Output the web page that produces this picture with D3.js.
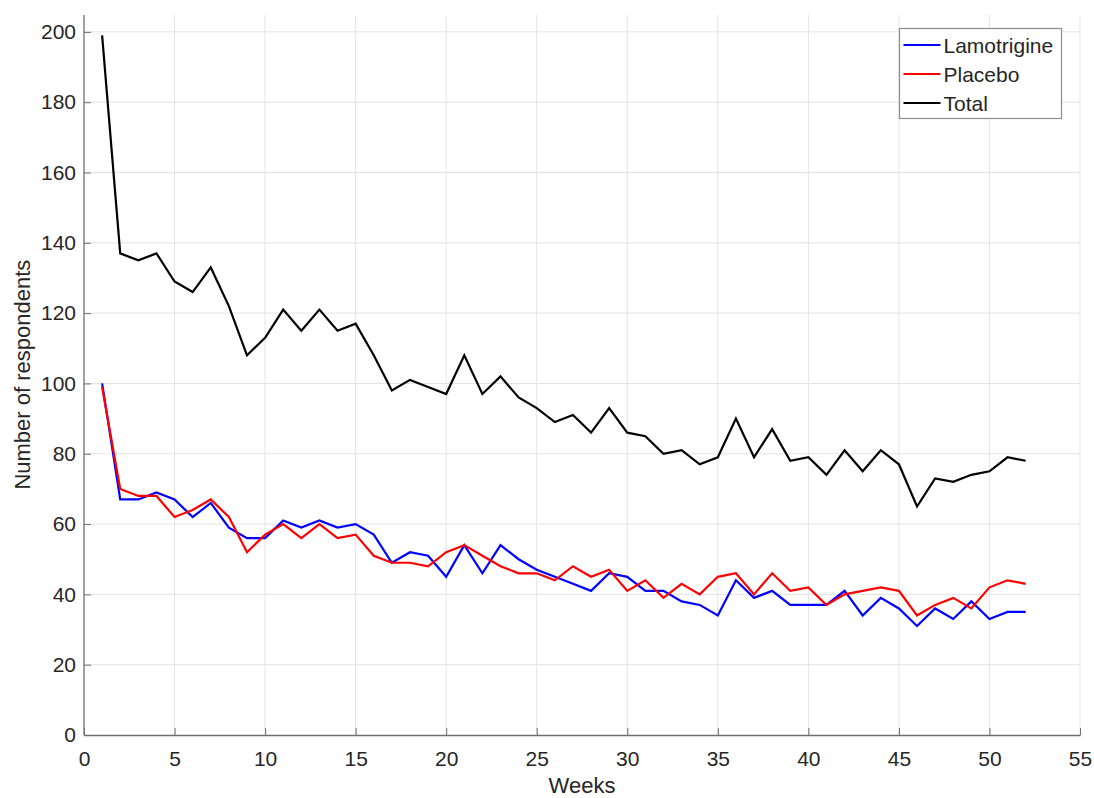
<!DOCTYPE html>
<html>
<head>
<meta charset="utf-8">
<script src="https://cdn.jsdelivr.net/npm/d3@7"></script>
<style>
  body { margin: 0; background: #fff; }
  text { font-family: "Liberation Sans", Arial, sans-serif; fill: #262626; }
</style>
</head>
<body>
<div id="chart"></div>
<script>
// weekly respondents
var weeks = d3.range(1, 53);

var lamotrigine = [100, 67, 67, 69, 67, 62, 66, 59, 56, 56,
                   61, 59, 61, 59, 60, 57, 49, 52, 51, 45,
                   54, 46, 54, 50, 47, 45, 43, 41, 46, 45,
                   41, 41, 38, 37, 34, 44, 39, 41, 37, 37,
                   37, 41, 34, 39, 36, 31, 36, 33, 38, 33,
                   35, 35];

var placebo = [99, 70, 68, 68, 62, 64, 67, 62, 52, 57,
               60, 56, 60, 56, 57, 51, 49, 49, 48, 52,
               54, 51, 48, 46, 46, 44, 48, 45, 47, 41,
               44, 39, 43, 40, 45, 46, 40, 46, 41, 42,
               37, 40, 41, 42, 41, 34, 37, 39, 36, 42,
               44, 43];

var total = [199, 137, 135, 137, 129, 126, 133, 122, 108, 113,
             121, 115, 121, 115, 117, 108, 98, 101, 99, 97,
             108, 97, 102, 96, 93, 89, 91, 86, 93, 86,
             85, 80, 81, 77, 79, 90, 79, 87, 78, 79,
             74, 81, 75, 81, 77, 65, 73, 72, 74, 75,
             79, 78];

var seriesNames = ["Lamotrigine", "Placebo", "Total"];
var seriesColors = ["#0000ff", "#ff0000", "#000000"];
var xTicks = d3.range(0, 56, 5);
var yTicks = d3.range(0, 201, 20);

var width = 1094,
    height = 798;

var margin = {top: 15, right: 14, bottom: 63, left: 84};

var svg = d3.select("#chart").append("svg")
    .attr("width", width)
    .attr("height", height);

var x = d3.scaleLinear()
    .domain([0, 55])
    .range([margin.left, width - margin.right]);

var y = d3.scaleLinear()
    .domain([0, 204.8])
    .range([height - margin.bottom, margin.top]);

// grid
var grid = svg.append("g").attr("class", "grid");

grid.selectAll(".gx")
    .data(xTicks.filter(function(d) { return d > 0; }))
    .enter().append("line")
    .attr("x1", function(d) { return x(d); })
    .attr("x2", function(d) { return x(d); })
    .attr("y1", y(0))
    .attr("y2", margin.top)
    .attr("stroke", "#e3e3e3")
    .attr("stroke-width", 1);

grid.selectAll(".gy")
    .data(yTicks.filter(function(d) { return d > 0; }))
    .enter().append("line")
    .attr("x1", x(0))
    .attr("x2", x(55))
    .attr("y1", function(d) { return y(d); })
    .attr("y2", function(d) { return y(d); })
    .attr("stroke", "#e3e3e3")
    .attr("stroke-width", 1);

// axes
var xAxis = svg.append("g")
    .attr("transform", "translate(0," + y(0) + ")")
    .call(d3.axisBottom(x).tickValues(xTicks).tickSizeInner(-7).tickSizeOuter(0).tickPadding(16));

var yAxis = svg.append("g")
    .attr("transform", "translate(" + x(0) + ",0)")
    .call(d3.axisLeft(y).tickValues(yTicks).tickSizeInner(-7).tickSizeOuter(0).tickPadding(8));

[xAxis, yAxis].forEach(function(a) {
    a.select(".domain").attr("stroke", "#6e6e6e").attr("stroke-width", 1.3);
    a.selectAll(".tick line").attr("stroke", "#6e6e6e");
    a.selectAll(".tick text")
        .attr("font-size", "21px")
        .attr("fill", "#262626")
        .style("font-family", "'Liberation Sans', Arial, sans-serif");
});

yAxis.select(".domain").attr("d", "M0," + y(0) + "V" + margin.top);

svg.append("text")
    .attr("x", x(27.5))
    .attr("y", 793)
    .attr("text-anchor", "middle")
    .attr("font-size", "22px")
    .text("Weeks");

svg.append("text")
    .attr("transform", "translate(30," + y(102.5) + ") rotate(-90)")
    .attr("text-anchor", "middle")
    .attr("font-size", "22px")
    .text("Number of respondents");

// lines
var line = d3.line()
    .x(function(d, i) { return x(weeks[i]); })
    .y(function(d) { return y(d); });

var allSeries = [lamotrigine, placebo, total];

svg.selectAll(".series")
    .data(allSeries)
    .enter().append("path")
    .attr("class", "series")
    .attr("d", line)
    .attr("fill", "none")
    .attr("stroke", function(d, i) { return seriesColors[i]; })
    .attr("stroke-width", 2.2)
    .attr("stroke-linejoin", "miter");

// legend
var legend = svg.append("g")
    .attr("transform", "translate(899.5,28.5)");

legend.append("rect")
    .attr("width", 162)
    .attr("height", 90)
    .attr("fill", "#fff")
    .attr("stroke", "#8c8c8c")
    .attr("stroke-width", 1.2);

var item = legend.selectAll(".item")
    .data(seriesNames)
    .enter().append("g")
    .attr("class", "item")
    .attr("transform", function(d, i) { return "translate(0," + (16.5 + i * 29) + ")"; });

item.append("line")
    .attr("x1", 4)
    .attr("x2", 41)
    .attr("stroke", function(d, i) { return seriesColors[i]; })
    .attr("stroke-width", 2.2);

item.append("text")
    .attr("x", 44)
    .attr("dy", "0.36em")
    .attr("font-size", "21px")
    .text(function(d) { return d; });
</script>
</body>
</html>
